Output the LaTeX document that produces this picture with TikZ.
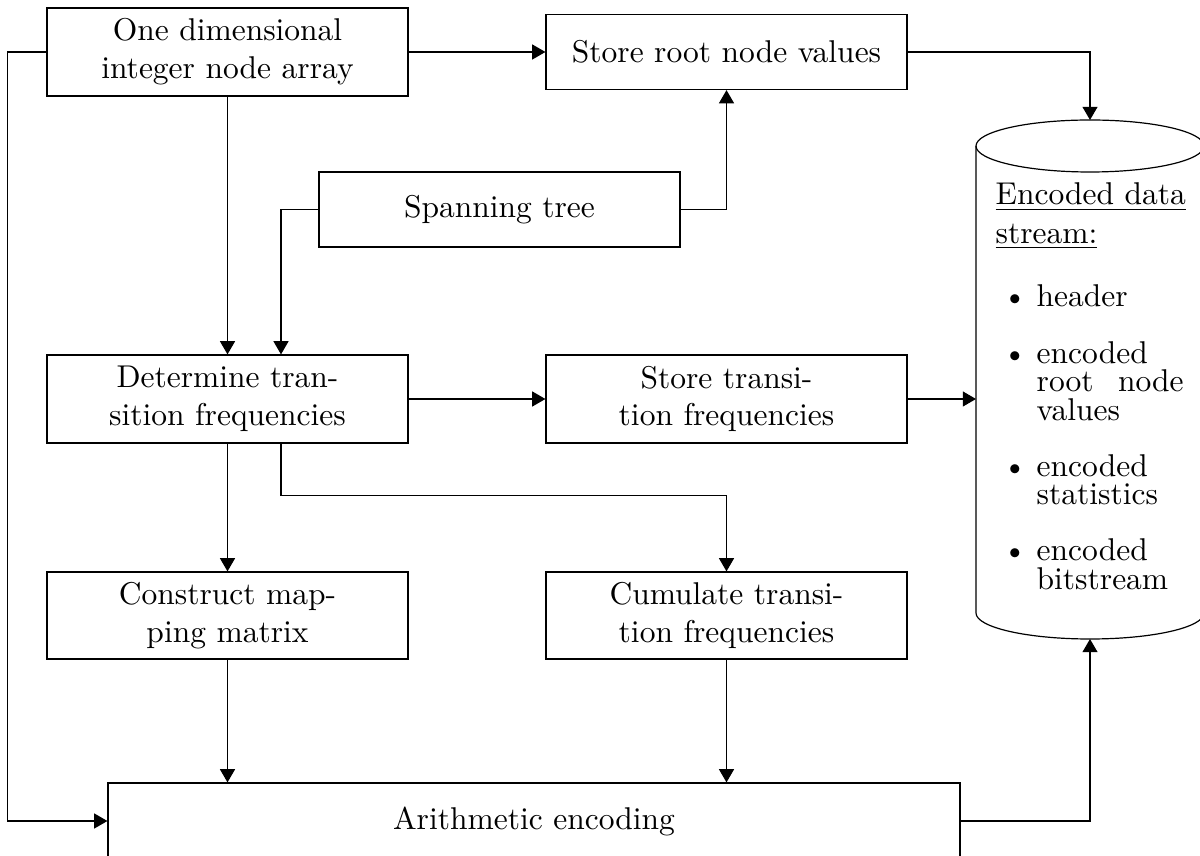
\documentclass[tikz,border=0pt]{standalone}
\usetikzlibrary{arrows.meta,calc}
\begin{document}
\begin{tikzpicture}[x=0.33333pt,y=-0.33333pt,
  base/.style={font=\fontsize{10.5}{12.6}\selectfont},
  box/.style={base,draw,rectangle,minimum width=120.33pt,inner sep=0pt,align=center},
  arr/.style={-{Triangle[length=4.4pt,width=5pt]}},
  line width=0.4pt]
\useasboundingbox (0,0) rectangle (1200,856);
% boxes
\node[box,minimum height=29.33pt] (one) at (227.5,52) {One dimensional\\integer node array};
\node[box,minimum height=25pt] (root) at (726.5,52) {Store root node values};
\node[box,minimum height=25pt] (span) at (499.5,209.5) {Spanning tree};
\node[box,minimum height=29.33pt] (det) at (227.5,399) {Determine tran-\\sition frequencies};
\node[box,minimum height=29.33pt] (stt) at (726.5,399) {Store transi-\\tion frequencies};
\node[box,minimum height=29pt] (con) at (227.5,615.5) {Construct map-\\ping matrix};
\node[box,minimum height=29pt] (cum) at (726.5,615.5) {Cumulate transi-\\tion frequencies};
\node[box,minimum width=284pt,minimum height=25.33pt] (ari) at (534,821) {Arithmetic encoding};
% cylinder (data store)
\draw (976,146) -- (976,613) arc[start angle=180,end angle=360,x radius=38pt,y radius=8.667pt] -- (1204,146);
\draw (1090,146) ellipse[x radius=38pt,y radius=8.667pt];
\coordinate (cyltop) at (1090,120);
\coordinate (cylleft) at (976,399);
\coordinate (cylbot) at (1090,639);
\node[base,anchor=base west,inner sep=0pt] (txt) at (995,205) {\begin{minipage}[t]{62.7pt}%
\setlength{\baselineskip}{9.5pt}\lineskiplimit=-20pt\lineskip=0pt
\underline{Encoded data}\par\vspace{3.2pt}
\underline{stream:}\par\vspace{11.8pt}
\makebox[13.7pt][l]{\hspace{2.3pt}\textbullet}header\par\vspace{9.2pt}
\makebox[13.7pt][l]{\hspace{2.3pt}\textbullet}encoded\par
\hspace*{13.7pt}root\hfill node\par
\hspace*{13.7pt}values\par\vspace{9.2pt}
\makebox[13.7pt][l]{\hspace{2.3pt}\textbullet}encoded\par
\hspace*{13.7pt}statistics\par\vspace{9.2pt}
\makebox[13.7pt][l]{\hspace{2.3pt}\textbullet}encoded\par
\hspace*{13.7pt}bitstream\par
\end{minipage}};
% helper coordinates
\coordinate (detin2) at ($(det.north)+(53.5,0)$);
\coordinate (detout2) at ($(det.south)+(53.5,0)$);
\coordinate (bend) at ($(cum.north)+(0,-76)$);
% connectors
\draw[arr] (one.east) -- (root.west);
\draw[arr] (one.west) -- ++(-39,0) |- (ari.west);
\draw[arr] (one.south) -- (det.north);
\draw[arr] (span.west) -| (detin2);
\draw[arr] (span.east) -| (root.south);
\draw[arr] (root.east) -| (cyltop);
\draw[arr] (det.east) -- (stt.west);
\draw[arr] (stt.east) -- (cylleft);
\draw[arr] (det.south) -- (con.north);
\draw[arr] (detout2) |- (bend) -- (cum.north);
\draw[arr] (con.south) -- (con.south |- ari.north);
\draw[arr] (cum.south) -- (cum.south |- ari.north);
\draw[arr] (ari.east) -| (cylbot);
\end{tikzpicture}
\end{document}
